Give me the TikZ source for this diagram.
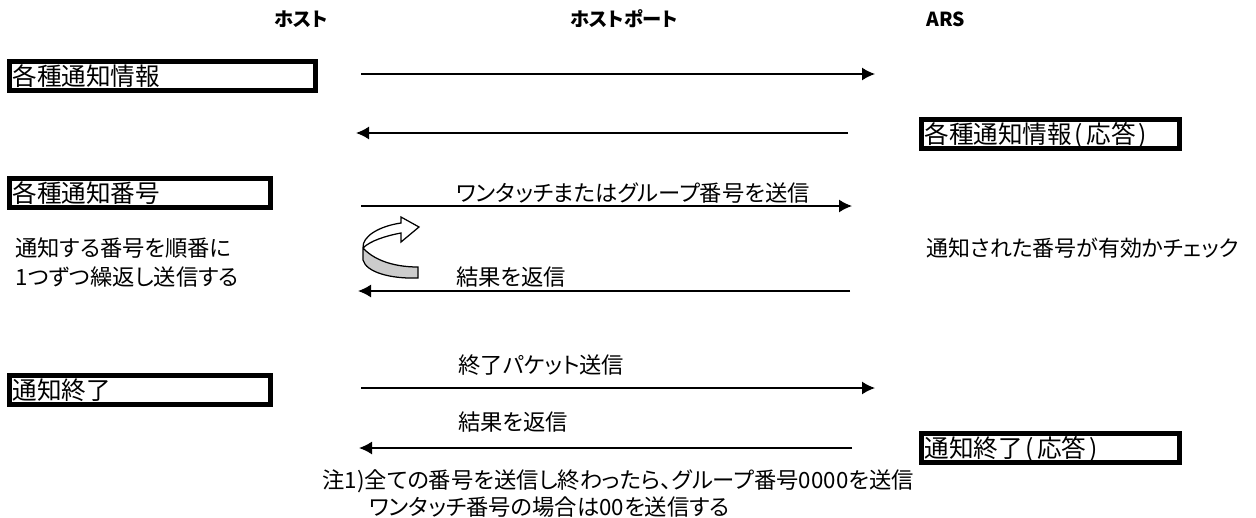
\documentclass[tikz,border=0pt]{standalone}
\usepackage{fontspec}
\setmainfont[RawFeature=+palt]{Noto Sans CJK JP}
\usetikzlibrary{arrows.meta}

\newcommand{\respmark}{\kern.1em(\kern.15em 応答\kern.1em)}

\tikzset{
  x=0.02cm, y=-0.02cm,
  txt/.style={anchor=west, inner sep=0pt, text height=0.39cm, text depth=0.06cm, font=\fontsize{12.7}{14}\selectfont},
  head/.style={anchor=west, inner sep=0pt, text height=0.32cm, text depth=0.04cm, font=\fontsize{11}{13}\selectfont\bfseries},
  statebox/.style={draw, line width=0.1cm, anchor=north west, inner xsep=0.06cm, inner ysep=0pt, text width=#1*0.02cm-0.22cm, align=left, minimum height=0.58cm, text height=0.43cm, text depth=0.06cm, font=\fontsize{14}{16}\selectfont},
  msg/.style={line width=0.03cm, -{Latex[length=0.26cm,width=0.26cm]}}
}

\begin{document}
\begin{tikzpicture}

\useasboundingbox (0,0) rectangle (1256,517);

\node (hosthead) [head] at (274,20) {ホスト};

\node (porthead) [head] at (570,20) {ホストポート};

\node (arshead) [head] at (926,20) {ARS};

\node (infobox) [statebox=311] at (7,59) {各種通知情報};

\node (numbox) [statebox=266] at (7,176) {各種通知番号};

\node (endbox) [statebox=266] at (7,373) {通知終了};

\node (inforesp) [statebox=263] at (919,117) {各種通知情報\respmark};

\node (endresp) [statebox=263] at (919,431) {通知終了\respmark};

\node (numnote) [txt] at (15,248) {通知する番号を順番に};

\node (numnotetwo) [txt] at (15,277) {1つずつ繰返し送信する};

\node (arsnote) [txt, font=\fontsize{12.5}{14}\selectfont] at (926,248) {通知された番号が有効かチェック};

\node (sendnum) [txt] at (456,193) {ワンタッチまたはグループ番号を送信};

\node (reply) [txt] at (456,277) {結果を返信};

\node (endsend) [txt] at (458,365) {終了パケット送信};

\node (replytwo) [txt] at (458,422) {結果を返信};

\node (footone) [txt] at (322,480) {注1)全ての番号を送信し終わったら、グループ番号0000を送信};

\node (foottwo) [txt] at (369,507) {ワンタッチ番号の場合は00を送信する};

\coordinate (a1) at (361,74);
\coordinate (b1) at (875,74);
\coordinate (a2) at (848,133);
\coordinate (b2) at (356,133);
\coordinate (a3) at (361,206);
\coordinate (b3) at (852,206);
\coordinate (a4) at (850,291);
\coordinate (b4) at (358,291);
\coordinate (a5) at (361,388);
\coordinate (b5) at (875,388);
\coordinate (a6) at (852,448);
\coordinate (b6) at (359,448);

\draw[msg] (a1) -- (b1);

\draw[msg] (a2) -- (b2);

\draw[msg] (a3) -- (b3);

\draw[msg] (a4) -- (b4);

\draw[msg] (a5) -- (b5);

\draw[msg] (a6) -- (b6);

\draw[line width=0.025cm, fill=black!20] (363,248) -- (363,260) .. controls (366,272) and (390,279) .. (418,278) -- (418,267) .. controls (390,267) and (372,258) .. (363,248);

\draw[line width=0.025cm, fill=white] (363,248) .. controls (362,236) and (380,226) .. (401,223) -- (401,217) -- (419,227) -- (401,242) -- (401,233) .. controls (385,236) and (370,241) .. (363,248);

\end{tikzpicture}
\end{document}
